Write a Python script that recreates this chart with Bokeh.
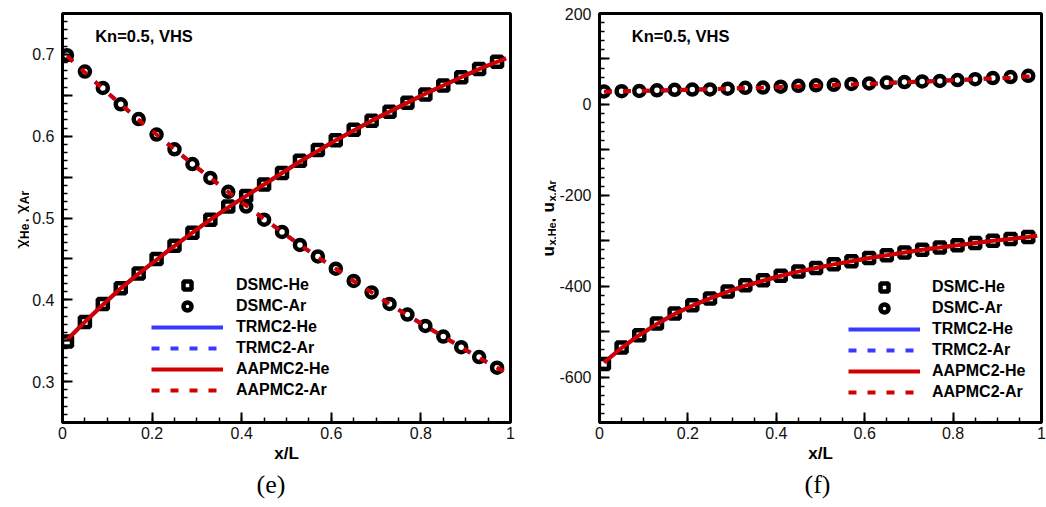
import numpy as np
from bokeh.plotting import figure
from bokeh.models import (Range1d, FixedTicker, CustomJSTickFormatter, Legend,
                          LegendItem, Label, Title)
from bokeh.core.properties import value
from bokeh.layouts import row
from bokeh.embed import file_html
from bokeh.resources import INLINE

# ---------------- data ----------------
x_dsmc = [0.01, 0.05, 0.09, 0.13, 0.17, 0.21, 0.25, 0.29, 0.33, 0.37, 0.41, 0.45, 0.49,
          0.53, 0.57, 0.61, 0.65, 0.69, 0.73, 0.77, 0.81, 0.85, 0.89, 0.93, 0.97]

# (e) mole fractions
chi_he_dsmc = [0.349, 0.373, 0.395, 0.414, 0.432, 0.450, 0.466, 0.482, 0.498, 0.514, 0.527,
               0.541, 0.555, 0.570, 0.583, 0.595, 0.608, 0.619, 0.630, 0.641, 0.651, 0.662,
               0.672, 0.682, 0.691]
chi_ar_dsmc = [0.699, 0.679, 0.659, 0.639, 0.621, 0.602, 0.584, 0.566, 0.549, 0.532, 0.514,
               0.498, 0.483, 0.467, 0.453, 0.438, 0.423, 0.409, 0.395, 0.382, 0.368, 0.355,
               0.342, 0.330, 0.317]

x_model = [0.01, 0.05, 0.09, 0.13, 0.17, 0.21, 0.25, 0.29, 0.33, 0.37, 0.41, 0.45, 0.49,
           0.53, 0.57, 0.61, 0.65, 0.69, 0.73, 0.77, 0.81, 0.85, 0.89, 0.93, 0.97, 0.99]
chi_he_aapmc = [0.351, 0.373, 0.394, 0.414, 0.432, 0.449, 0.466, 0.482, 0.498, 0.513, 0.527,
                0.541, 0.555, 0.569, 0.582, 0.595, 0.607, 0.619, 0.630, 0.641, 0.652, 0.662,
                0.672, 0.682, 0.691, 0.695]
chi_ar_aapmc = [0.698, 0.678, 0.658, 0.639, 0.620, 0.602, 0.584, 0.566, 0.549, 0.532, 0.515,
                0.499, 0.483, 0.467, 0.452, 0.438, 0.423, 0.409, 0.395, 0.381, 0.368, 0.355,
                0.342, 0.329, 0.317, 0.311]
chi_he_trmc = list(chi_he_aapmc)
chi_ar_trmc = list(chi_ar_aapmc)

# (f) velocities
u_he_dsmc = [-571, -535, -508, -482, -460, -442, -427, -412, -398, -387, -377, -368, -360,
             -352, -345, -338, -332, -326, -320, -315, -310, -305, -300, -296, -292]
u_ar_dsmc = [28.6, 29, 29.5, 31, 32, 32.5, 33, 34.5, 36.5, 37, 39, 41, 42, 43, 45, 46, 48,
             49, 50.5, 51.5, 53.5, 55.5, 58, 60, 63]
u_he_aapmc = [-568, -536, -508, -483, -461, -443, -427, -412, -399, -388, -377, -368, -360,
              -352, -345, -338, -332, -326, -320, -315, -310, -305, -300, -296, -292, -289]
u_ar_aapmc = [28, 28.8, 29.6, 30.6, 31.6, 32.6, 33.6, 34.7, 35.8, 37, 38.3, 39.6, 41, 42.5,
              44, 45.5, 47, 48.6, 50.2, 51.8, 53.5, 55.3, 57.2, 59.2, 61.4, 62.5]
u_he_trmc = list(u_he_aapmc)
u_ar_trmc = list(u_ar_aapmc)

labels_legend = ["DSMC-He", "DSMC-Ar", "TRMC2-He", "TRMC2-Ar", "AAPMC2-He", "AAPMC2-Ar"]

FONT = "Liberation Sans"
RED = "#d20000"
BLUE = "#3a3aff"
DASH = "8 11"
H = 507
BOTTOM = 85


def make_panel(width, bl, br, bt, xr, yr, ymajor, yminor, yfmt_code,
               he_dsmc, ar_dsmc, he_trmc, ar_trmc, he_aap, ar_aap, legend_xy, legend_standoff,
               caption, caption_offset):
    p = figure(width=width, height=H, x_range=Range1d(*xr), y_range=Range1d(*yr),
               output_backend="svg", toolbar_location=None,
               min_border_left=bl, min_border_right=br,
               min_border_top=bt, min_border_bottom=BOTTOM)
    p.xgrid.visible = False
    p.ygrid.visible = False
    p.outline_line_color = "black"
    p.outline_line_width = 3
    p.background_fill_color = "white"
    p.border_fill_color = "white"

    p.xaxis.ticker = FixedTicker(ticks=[0, 0.2, 0.4, 0.6, 0.8, 1.0],
                                 minor_ticks=np.round(np.arange(0, 1.0001, 0.05), 2).tolist())
    p.xaxis.formatter = CustomJSTickFormatter(
        code="if (Math.abs(tick) < 1e-9) return '0'; if (Math.abs(tick-1) < 1e-9) return '1'; return tick.toFixed(1);")
    p.yaxis.ticker = FixedTicker(ticks=ymajor, minor_ticks=yminor)
    p.yaxis.formatter = CustomJSTickFormatter(code=yfmt_code)

    for ax in (p.xaxis[0], p.yaxis[0]):
        ax.axis_line_width = 3
        ax.axis_line_color = "black"
        ax.major_tick_in = 10
        ax.major_tick_out = 0
        ax.minor_tick_in = 5
        ax.minor_tick_out = 0
        ax.major_tick_line_width = 2
        ax.minor_tick_line_width = 1.5
        ax.major_label_text_font = FONT
        ax.major_label_text_font_size = "16px"
        ax.major_label_text_color = "#111111"
    p.yaxis.major_label_standoff = 8
    p.xaxis.major_label_standoff = 4
    p.xaxis.axis_label = "x/L"
    p.xaxis.axis_label_text_font = FONT
    p.xaxis.axis_label_text_font_style = "bold"
    p.xaxis.axis_label_text_font_size = "17px"
    p.xaxis.axis_label_text_color = "black"
    p.xaxis.axis_label_standoff = 2

    # model lines below, then symbols, then AAPMC2 on top
    r_the = p.line(x_model, he_trmc, line_color=BLUE, line_width=4)
    r_tar = p.line(x_model, ar_trmc, line_color=BLUE, line_width=4, line_dash=DASH)
    r_sq = p.scatter(x_dsmc, he_dsmc, marker="square", size=10, line_width=4.5,
                     line_color="black", fill_color="white")
    r_ci = p.scatter(x_dsmc, ar_dsmc, marker="circle", size=10, line_width=4.5,
                     line_color="black", fill_color="white")
    r_ahe = p.line(x_model, he_aap, line_color=RED, line_width=4)
    r_aar = p.line(x_model, ar_aap, line_color=RED, line_width=4, line_dash=DASH)

    items = [LegendItem(label=t, renderers=[r]) for t, r in
             zip(labels_legend, [r_sq, r_ci, r_the, r_tar, r_ahe, r_aar])]
    leg = Legend(items=items, location=legend_xy, orientation="vertical",
                 glyph_width=72, glyph_height=20, label_height=20, spacing=1,
                 label_standoff=legend_standoff, padding=0, margin=0,
                 border_line_alpha=0, background_fill_alpha=0,
                 label_text_font=FONT, label_text_font_style="bold",
                 label_text_font_size="16px", label_text_color="black")
    p.add_layout(leg)

    # panel tag
    x0, x1 = xr
    y0, y1 = yr
    p.add_layout(Label(x=x0 + 0.073 * (x1 - x0), y=y1 - 0.056 * (y1 - y0), text="Kn=0.5, VHS",
                       text_font=FONT, text_font_style="bold", text_font_size="16.5px",
                       text_color="black", text_baseline="middle", text_align="left"))
    p.add_layout(Title(text=caption, align="left", text_font="Liberation Serif",
                       text_font_size="26px", text_font_style="normal", text_color="black",
                       standoff=4, offset=caption_offset), "below")
    return p


# strip figures that host the sub-scripted y-axis titles (frame aligned with panel frame)
def strip(width, top):
    s = figure(width=width, height=H, x_range=Range1d(0, width),
               y_range=Range1d(BOTTOM, H - top),
               output_backend="svg", toolbar_location=None, x_axis_type=None,
               y_axis_type=None, min_border_left=0, min_border_right=0,
               min_border_top=top, min_border_bottom=BOTTOM)
    s.outline_line_color = None
    s.xgrid.visible = False
    s.ygrid.visible = False
    return s


def piece(s, px, py_end, text, size, bold):
    # rotated text read bottom-to-top; anchored at its upper end
    s.text(x=[px], y=[H - py_end], text=[text], angle=np.pi / 2, text_align="right",
           text_baseline="alphabetic", text_font=value(FONT),
           text_font_style="bold" if bold else "normal",
           text_font_size=size, text_color="black")


# layout (absolute x): s1 0-29 | p1 29-520 (frame 60-510) | s2 520-556 | p2 556-1046 (frame 596-1041)
s1 = strip(29, 10)
p1 = make_panel(491, 31, 10, 10, (0, 1), (0.25, 0.75),
                np.round(np.arange(0.25, 0.7501, 0.05), 2).tolist(),
                np.round(np.arange(0.25, 0.7501, 0.01), 2).tolist(),
                "const k = Math.round(tick*20); return (k % 2 === 0) ? tick.toFixed(1) : '';",
                chi_he_dsmc, chi_ar_dsmc, chi_he_trmc, chi_ar_trmc, chi_he_aapmc, chi_ar_aapmc,
                (89, 22), 13, "(e)", 194)
s2 = strip(36, 13)
p2 = make_panel(490, 40, 5, 13, (0, 1), (-700, 200),
                list(range(-700, 201, 100)),
                list(range(-700, 201, 20)),
                "const k = Math.round(tick/100); return (Math.abs(k) % 2 === 0) ? String(k*100) : '';",
                u_he_dsmc, u_ar_dsmc, u_he_trmc, u_ar_trmc, u_he_aapmc, u_ar_aapmc,
                (249, 20), 12, "(f)", 205)

# y title (e): chi_He, chi_Ar  (x in strip pixels, y = upper end in page pixels)
piece(s1, 21, 237, "χ", "19px", False)
piece(s1, 24, 221.7, "He", "12px", True)
piece(s1, 21, 215.7, ",", "19px", False)
piece(s1, 21, 202, "χ", "19px", False)
piece(s1, 24, 188.7, "Ar", "12px", True)

# y title (f): u_x,He, u_x,Ar
piece(s2, 28, 245.6, "u", "17px", True)
piece(s2, 31, 221.8, "x,He", "11px", True)
piece(s2, 28, 217.3, ",", "17px", True)
piece(s2, 28, 201.6, "u", "17px", True)
piece(s2, 31, 179.6, "x,Ar", "11px", True)

layout = row(s1, p1, s2, p2, spacing=0)
open("out.html", "w").write(file_html(layout, INLINE))
